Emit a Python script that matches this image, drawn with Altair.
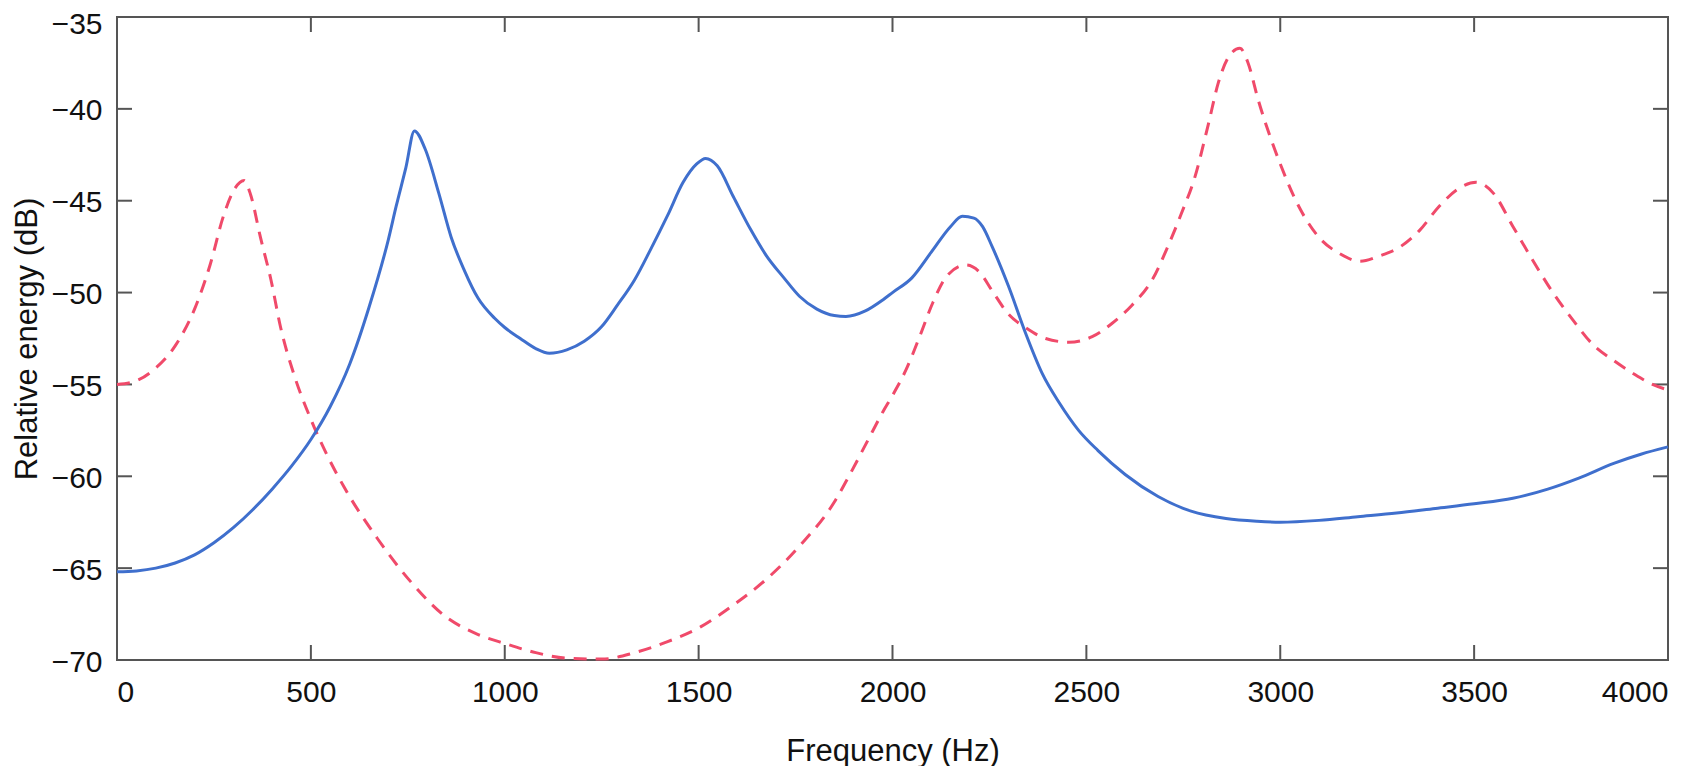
import altair as alt
import pandas as pd

# solid blue spectrum
blue_hz = [0, 50, 100, 150, 200, 250, 300, 350, 400, 450, 500, 550, 600, 650, 700,
           720, 745, 767, 795, 830, 862, 896, 931, 974, 1000, 1040, 1080, 1115, 1160,
           1205, 1250, 1290, 1335, 1375, 1420, 1460, 1495, 1518, 1548, 1590, 1635, 1675,
           1720, 1760, 1805, 1850, 1880, 1930, 1975, 2000, 2050, 2100, 2150, 2180, 2210,
           2232, 2257, 2300, 2343, 2386, 2430, 2480, 2530, 2600, 2685, 2770, 2860, 2940,
           3000, 3100, 3200, 3300, 3400, 3500, 3600, 3690, 3770, 3860, 3930, 4000]
blue_db = [-65.2, -65.15, -65.0, -64.72, -64.28, -63.62, -62.8, -61.82, -60.7, -59.45, -58.0,
           -56.2, -53.9, -50.8, -47.1, -45.3, -43.2, -41.2, -42.2, -44.6, -47.0, -48.8,
           -50.3, -51.4, -51.9, -52.5, -53.05, -53.3, -53.12, -52.65, -51.85, -50.7, -49.3,
           -47.7, -45.8, -44.0, -43.0, -42.7, -43.1, -44.8, -46.6, -48.0, -49.2, -50.2,
           -50.9, -51.25, -51.3, -51.0, -50.4, -50.0, -49.2, -47.8, -46.4, -45.85, -45.95,
           -46.4, -47.5, -49.7, -52.2, -54.4, -56.0, -57.5, -58.6, -59.9, -61.1, -61.9,
           -62.3, -62.45, -62.5, -62.4, -62.2, -62.0, -61.75, -61.5, -61.2, -60.7, -60.1,
           -59.3, -58.8, -58.4]

# dashed red spectrum
red_hz = [0, 50, 100, 150, 200, 240, 275, 305, 328, 345, 370, 397, 422, 457, 500, 543,
          586, 672, 760, 845, 930, 1000, 1080, 1160, 1250, 1335, 1420, 1505, 1590, 1675,
          1760, 1850, 1890, 1935, 1975, 2000, 2035, 2070, 2105, 2140, 2190, 2225, 2257,
          2300, 2343, 2395, 2455, 2515, 2565, 2617, 2670, 2710, 2745, 2780, 2815, 2840,
          2866, 2896, 2917, 2943, 2977, 3000, 3050, 3100, 3155, 3205, 3257, 3310, 3360,
          3410, 3463, 3505, 3550, 3600, 3650, 3700, 3755, 3805, 3860, 3910, 3960, 4000]
red_db = [-55.0, -54.8, -54.1, -52.9, -50.9, -48.5, -45.8, -44.3, -43.9, -44.7, -47.0,
          -49.3, -51.9, -54.5, -56.9, -58.9, -60.6, -63.4, -65.8, -67.6, -68.6, -69.1,
          -69.6, -69.9, -69.95, -69.6, -69.0, -68.2, -67.0, -65.6, -63.8, -61.4, -59.9,
          -58.1, -56.5, -55.6, -54.2, -52.4, -50.5, -49.1, -48.5, -48.9, -49.9, -51.2,
          -51.9, -52.5, -52.7, -52.4, -51.7, -50.7, -49.3, -47.5, -45.7, -43.7, -40.8,
          -38.6, -37.2, -36.7, -37.5, -39.5, -41.7, -43.0, -45.4, -47.0, -47.9, -48.3,
          -48.0, -47.5, -46.6, -45.3, -44.3, -44.0, -44.6, -46.4, -48.2, -49.9, -51.5,
          -52.8, -53.7, -54.4, -55.0, -55.3]

x_ticks = [0, 500, 1000, 1500, 2000, 2500, 3000, 3500, 4000]
y_ticks = [-70, -65, -60, -55, -50, -45, -40, -35]

W, H = 1551, 643
TICK = 15
FRAME = "#555555"
FONT = "Liberation Sans"

blue = pd.DataFrame({"f": blue_hz, "db": blue_db})
red = pd.DataFrame({"f": red_hz, "db": red_db})
xt = pd.DataFrame({"v": x_ticks})
yt = pd.DataFrame({"v": y_ticks})

x_scale = alt.Scale(domain=[0, 4000], nice=False)
y_scale = alt.Scale(domain=[-70, -35], nice=False)

x_axis = alt.Axis(values=x_ticks, format="d", title="Frequency (Hz)", grid=False,
                  domain=False, ticks=False, labelFlush=True, labelPadding=17,
                  labelFontSize=30, titleFontSize=31, titleY=100,
                  titleBaseline="alphabetic")
# the top label sits a little lower so it stays inside the page
y_axis = alt.Axis(values=y_ticks, format="d", title="Relative energy (dB)", grid=False,
                  domain=False, ticks=False, labelPadding=15, labelFontSize=30,
                  labelOffset={"condition": {"test": "datum.value == -35", "value": 7},
                               "value": 2},
                  titleFontSize=31, titleX=-81, titleBaseline="alphabetic")

blue_line = alt.Chart(blue).mark_line(color="#3f6fcd", strokeWidth=3,
                                      interpolate="monotone").encode(
    x=alt.X("f:Q", scale=x_scale, axis=x_axis),
    y=alt.Y("db:Q", scale=y_scale, axis=y_axis),
)

red_line = alt.Chart(red).mark_line(color="#f04a6a", strokeWidth=3, strokeDash=[13, 9],
                                    interpolate="monotone").encode(
    x=alt.X("f:Q", scale=x_scale),
    y=alt.Y("db:Q", scale=y_scale),
)

# inward ticks on all four sides
tick = dict(color=FRAME, strokeWidth=2)
bottom_ticks = alt.Chart(xt).mark_rule(**tick).encode(
    x=alt.X("v:Q", scale=x_scale), y=alt.value(H), y2=alt.value(H - TICK))
top_ticks = alt.Chart(xt).mark_rule(**tick).encode(
    x=alt.X("v:Q", scale=x_scale), y=alt.value(0), y2=alt.value(TICK))
left_ticks = alt.Chart(yt).mark_rule(**tick).encode(
    y=alt.Y("v:Q", scale=y_scale), x=alt.value(0), x2=alt.value(TICK))
right_ticks = alt.Chart(yt).mark_rule(**tick).encode(
    y=alt.Y("v:Q", scale=y_scale), x=alt.value(W - TICK), x2=alt.value(W))

chart = alt.layer(
    bottom_ticks, top_ticks, left_ticks, right_ticks, red_line, blue_line
).properties(
    width=W, height=H,
    autosize=alt.AutoSizeParams(type="none"),
    padding={"left": 109, "top": 9, "right": 6, "bottom": 106},
).configure_view(
    stroke=FRAME, strokeWidth=2
).configure_axis(
    labelFont=FONT, titleFont=FONT, labelColor="#111111", titleColor="#111111",
    titleFontWeight="normal"
)

chart.save("out.html", embed_options={"renderer": "svg", "actions": False})
